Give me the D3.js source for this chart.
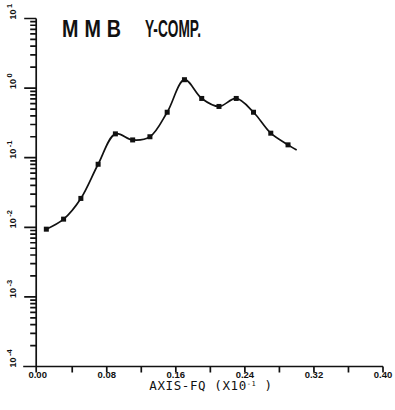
<!DOCTYPE html>
<html>
<head>
<meta charset="utf-8">
<script src="https://cdn.jsdelivr.net/npm/d3@7"></script>
<style>
  body { margin: 0; background: #fff; }
  svg { display: block; }
</style>
</head>
<body>
<script>
// measured points (frequency, amplitude)
const freq = [0.01, 0.03, 0.05, 0.07, 0.09, 0.11, 0.13, 0.15, 0.17, 0.19, 0.21, 0.23, 0.25, 0.27, 0.29]
const amp = [0.0094, 0.0131, 0.026, 0.0805, 0.22, 0.18, 0.20, 0.45, 1.32, 0.71, 0.545, 0.71, 0.45, 0.225, 0.153]
// fitted curve runs on a little past the last marker
const curveEndFreq = 0.30
const curveEndAmp = 0.129

const xTicks = [0, 0.04, 0.08, 0.12, 0.16, 0.2, 0.24, 0.28, 0.32, 0.36, 0.4]
const xLabels = [0, 0.08, 0.16, 0.24, 0.32, 0.4]
const yDecades = [1e-4, 1e-3, 1e-2, 1e-1, 1, 10]
const yExponents = ['-4', '-3', '-2', '-1', '0', '1']

const width = 395
const height = 410
const ink = '#111'

const svg = d3.select('body').append('svg')
    .attr('width', width)
    .attr('height', height)

const x = d3.scaleLinear().domain([0, 0.4]).range([37.7, 383])
const y = d3.scaleLog().domain([1e-4, 10]).range([366.5, 18.5])

const x0 = x(0) - 1.5
const yb = y(1e-4)

// minor log ticks
let minor = []
for (let e = -4; e < 1; e++) {
    for (let m = 2; m <= 9; m++) minor.push(m * Math.pow(10, e))
}

// axes frame and ticks, all in one path
let p = d3.path()
p.moveTo(x0, y(10))
p.lineTo(x0, yb + 6)
p.moveTo(x0 - 13, yb)
p.lineTo(x(0.4), yb)
minor.forEach(d => { p.moveTo(x0 - 6, y(d)); p.lineTo(x0, y(d)) })
yDecades.forEach(d => { p.moveTo(x0 - 12, y(d)); p.lineTo(x0, y(d)) })
xTicks.slice(1).forEach(d => { p.moveTo(x(d), yb); p.lineTo(x(d), yb + 6) })

svg.append('path')
    .attr('d', p.toString())
    .attr('fill', 'none')
    .attr('stroke', ink)
    .attr('stroke-width', 1.7)

// rotated decade labels
const ylab = svg.append('g')
    .selectAll('text')
    .data(yDecades)
    .join('text')
    .attr('transform', d => `translate(16,${y(d) + 1}) rotate(-90)`)
    .attr('font-family', 'Liberation Sans, Arial, sans-serif')
    .attr('font-weight', 'bold')
    .attr('font-size', 9)
    .attr('fill', ink)
ylab.append('tspan').text('10')
ylab.append('tspan')
    .attr('dy', -4)
    .attr('dx', 1.5)
    .attr('font-size', 7.5)
    .text((d, i) => yExponents[i])

// x tick labels
svg.append('g')
    .selectAll('text')
    .data(xLabels)
    .join('text')
    .attr('x', d => x(d))
    .attr('y', yb + 11)
    .attr('text-anchor', 'middle')
    .attr('font-family', 'Liberation Sans, Arial, sans-serif')
    .attr('font-weight', 'bold')
    .attr('font-size', 9.5)
    .attr('fill', ink)
    .text(d => d.toFixed(2))

const xTitle = svg.append('text')
    .attr('x', 211)
    .attr('y', 390)
    .attr('text-anchor', 'middle')
    .attr('font-family', 'DejaVu Sans Mono, monospace')
    .attr('font-size', 12.5)
    .attr('letter-spacing', 0.6)
    .attr('fill', ink)
xTitle.append('tspan').text('AXIS-FQ (X10')
xTitle.append('tspan').attr('dy', -4).attr('font-size', 7).text('-1')
xTitle.append('tspan').attr('dy', 4).text('  )')

// title
svg.append('text')
    .attr('x', 62).attr('y', 37)
    .attr('font-family', 'Liberation Sans, Arial, sans-serif')
    .attr('font-weight', 'bold')
    .attr('font-size', 23)
    .attr('letter-spacing', 7)
    .attr('textLength', 65)
    .attr('lengthAdjust', 'spacingAndGlyphs')
    .attr('fill', ink)
    .text('MMB')
svg.append('text')
    .attr('x', 145).attr('y', 37)
    .attr('font-family', 'Liberation Sans, Arial, sans-serif')
    .attr('font-weight', 'bold')
    .attr('font-size', 23)
    .attr('textLength', 56)
    .attr('lengthAdjust', 'spacingAndGlyphs')
    .attr('fill', ink)
    .text('Y-COMP.')

// curve + markers
const pts = freq.map((f, i) => [f, amp[i]])
const curvePts = pts.concat([[curveEndFreq, curveEndAmp]])

const line = d3.line()
    .x(d => x(d[0]))
    .y(d => y(d[1]))
    .curve(d3.curveCatmullRom.alpha(0.5))

svg.append('path')
    .datum(curvePts)
    .attr('d', line)
    .attr('fill', 'none')
    .attr('stroke', ink)
    .attr('stroke-width', 1.7)

svg.selectAll('rect.pt')
    .data(pts)
    .join('rect')
    .attr('class', 'pt')
    .attr('x', d => x(d[0]) - 2.5)
    .attr('y', d => y(d[1]) - 2.5)
    .attr('width', 5)
    .attr('height', 5)
    .attr('fill', ink)
</script>
</body>
</html>
